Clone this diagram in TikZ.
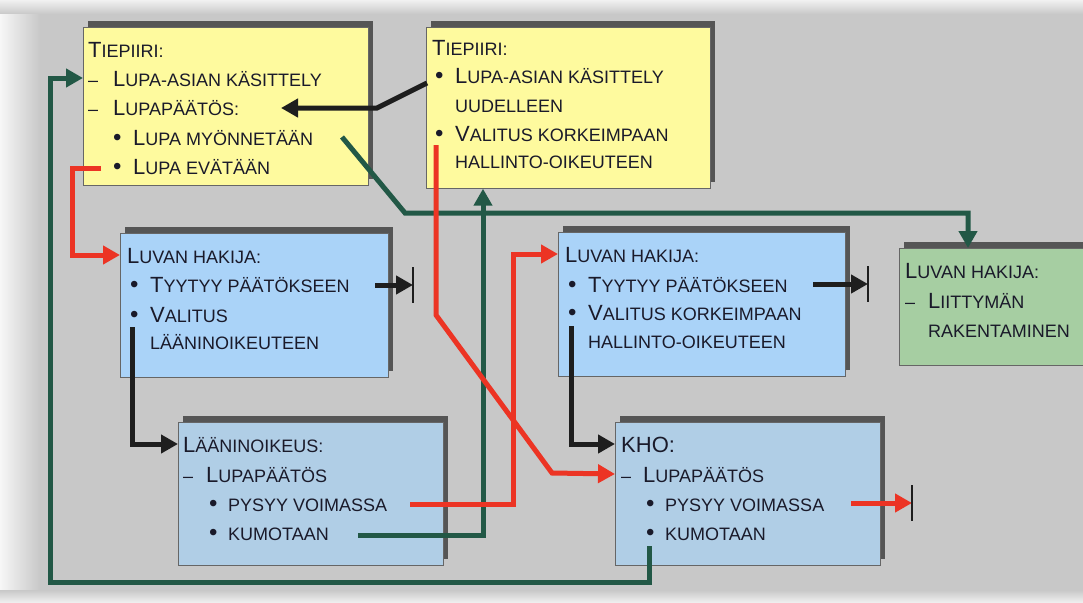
\documentclass[tikz,border=0pt]{standalone}
\usepackage{fontspec}
\setmainfont{Liberation Sans}
\usetikzlibrary{arrows.meta,shadows}

\definecolor{keltainen}{RGB}{254,250,158}
\definecolor{sininen}{RGB}{170,211,248}
\definecolor{harmaansininen}{RGB}{176,206,230}
\definecolor{vihrea}{RGB}{166,206,162}
\definecolor{tummavihrea}{RGB}{34,88,70}
\definecolor{punainen}{RGB}{236,52,36}
\definecolor{musta}{RGB}{30,30,30}
\definecolor{varjo}{RGB}{85,85,85}
\definecolor{tausta}{RGB}{200,200,200}
\definecolor{tekstivari}{RGB}{26,26,42}

\newcommand\isokir[1]{{\fontsize{22}{22}\selectfont #1}}
\newcommand\viiva[1][25pt]{\makebox[#1][l]{–}}
\newcommand\pallo[1][20pt]{\makebox[#1][l]{\fontsize{24}{24}\selectfont •}}

\tikzset{
	laatikko/.style={rectangle, draw=black!60, line width=0.7pt, inner sep=0pt, anchor=north west,
		general shadow={fill=varjo, shadow xshift=5pt, shadow yshift=6pt}},
	teksti/.style={inner sep=0pt, anchor=base west, text height=16pt, text depth=0pt,
		font=\fontsize{18}{22}\selectfont, text=tekstivari},
	yhteys/.style={line width=5pt, -{Triangle[length=17pt,width=18pt]}},
}

\begin{document}
\begin{tikzpicture}[x=1pt, y=-1pt]
\useasboundingbox (0,0) rectangle (1083,602);
% tausta
\fill[tausta] (0,0) rectangle (1083,602);
\shade[left color=white!85!tausta, right color=tausta] (0,0) rectangle (40,602);
\shade[top color=white!75!tausta, bottom color=tausta] (0,0) rectangle (1083,14);
\shade[top color=tausta, bottom color=white!70!tausta] (0,590) rectangle (1083,602);
% laatikot
\foreach \n/\x/\y/\w/\h/\c in {%
	tp1/83/27/285/158/keltainen%
	,tp2/426/27/284/161/keltainen%
	%
	,lh1/120/233/268/144/sininen%
	,lh2/558/232/287/144/sininen%
	,lh3/899/248/190/117/vihrea%
	%
	,lo/178/422/265/143/harmaansininen%
	,kho/615/422/265/143/harmaansininen%
}{
	\node[laatikko, fill=\c, minimum width=\w pt, minimum height=\h pt] (\n) at (\x,\y) {};
}
% tiepiiri
\node[teksti] (tp1a) at (88,57) {\isokir{T}IEPIIRI:};
\node[teksti] (tp1b) at (88,86) {\viiva\isokir{L}UPA-ASIAN KÄSITTELY};
\node[teksti] (tp1c) at (88,115) {\viiva\isokir{L}UPAPÄÄTÖS:};
\node[teksti] (tp1d) at (113,145) {\pallo\isokir{L}UPA MYÖNNETÄÄN};
\node[teksti] (tp1e) at (113,174) {\pallo\isokir{L}UPA EVÄTÄÄN};
%
\node[teksti] (tp2a) at (432,56) {\isokir{T}IEPIIRI:};
\node[teksti] (tp2b) at (435,83) {\pallo\isokir{L}UPA-ASIAN KÄSITTELY};
\node[teksti] (tp2c) at (455,112) {UUDELLEEN};
\node[teksti] (tp2d) at (435,141) {\pallo\isokir{V}ALITUS KORKEIMPAAN};
\node[teksti] (tp2e) at (455,168) {HALLINTO-OIKEUTEEN};
% luvan hakija
\node[teksti] (lh1a) at (127,263) {\isokir{L}UVAN HAKIJA:};
\node[teksti] (lh1b) at (130,292) {\pallo\isokir{T}YYTYY PÄÄTÖKSEEN};
\node[teksti] (lh1c) at (130,322) {\pallo\isokir{V}ALITUS};
\node[teksti] (lh1d) at (150,349) {LÄÄNINOIKEUTEEN};
%
\node[teksti] (lh2a) at (565,262) {\isokir{L}UVAN HAKIJA:};
\node[teksti] (lh2b) at (568,292) {\pallo\isokir{T}YYTYY PÄÄTÖKSEEN};
\node[teksti] (lh2c) at (568,320) {\pallo\isokir{V}ALITUS KORKEIMPAAN};
\node[teksti] (lh2d) at (588,348) {HALLINTO-OIKEUTEEN};
%
\node[teksti] (lh3a) at (905,278) {\isokir{L}UVAN HAKIJA:};
\node[teksti] (lh3b) at (905,308) {\viiva[23pt]\isokir{L}IITTYMÄN};
\node[teksti] (lh3c) at (928,337) {RAKENTAMINEN};
% lääninoikeus ja kho
\node[teksti] (loa) at (183,452) {\isokir{L}ÄÄNINOIKEUS:};
\node[teksti] (lob) at (183,482) {\viiva[23pt]\isokir{L}UPAPÄÄTÖS};
\node[teksti] (loc) at (209,511) {\pallo[19pt]PYSYY VOIMASSA};
\node[teksti] (lod) at (209,540) {\pallo[19pt]KUMOTAAN};
%
\node[teksti] (khoa) at (621,452) {\isokir{KHO:}};
\node[teksti] (khob) at (621,482) {\viiva[22pt]\isokir{L}UPAPÄÄTÖS};
\node[teksti] (khoc) at (646,511) {\pallo[19pt]PYSYY VOIMASSA};
\node[teksti] (khod) at (646,540) {\pallo[19pt]KUMOTAAN};
% yhteyksien vapaat päät
\foreach \n/\x/\y in {
	kumo1/358/535, kumo2/649/546, myon/342/137
	,uud/427/83, kohta/281/108
	,valitus1/132/327, valitus2/436/145, valitus3/571/326
	,evat/101/168, pysyy1/410/504
	,tyyt1/375/285, seis1/413/285
	,tyyt2/813/284, seis2/868/284
	,pysyy2/851/503, seis3/912/503
}{
	\coordinate (\n) at (\x,\y);
}
% vihreat
\draw[yhteys, tummavihrea] (kumo2) |- (50,582) |- (tp1.west |- tp1b);
\draw[yhteys, tummavihrea] (kumo1) -| ([xshift=57pt]tp2.south west);
\draw[yhteys, tummavihrea] (myon) -- (405,213) -| ([xshift=69pt]lh3.north west);
% mustat
\draw[yhteys, musta] (uud) -- (377,108) -- (kohta);
\draw[yhteys, musta] (valitus1) |- (lo.west |- loa);
\draw[yhteys, musta] (valitus3) |- (kho.west |- khoa);
% punaiset
\draw[yhteys, punainen] (evat) -- (72,168) |- (lh1.west |- lh1a);
\draw[yhteys, punainen] (pysyy1) -- (513,504) |- (lh2.west |- lh2a);
\draw[yhteys, punainen] (valitus2) -- (436,315) -- (552,473) -- (kho.west |- khob);
% pysahdykset
\foreach \a/\b/\c in {tyyt1/seis1/musta, tyyt2/seis2/musta, pysyy2/seis3/punainen}{
	\draw[yhteys, \c] (\a) -- (\b);
	\draw[line width=2pt, musta] ([yshift=18pt]\b) -- ([yshift=-18pt]\b);
}
\end{tikzpicture}
\end{document}
